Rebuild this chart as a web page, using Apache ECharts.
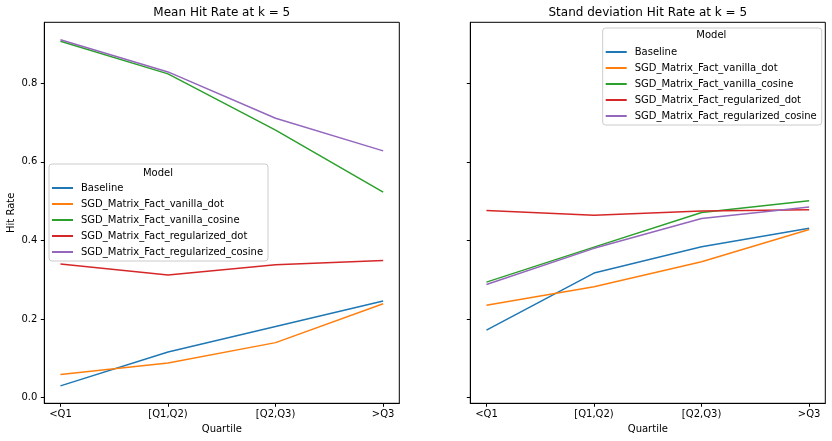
<!DOCTYPE html>
<html>
<head>
<meta charset="utf-8">
<script src="https://cdn.jsdelivr.net/npm/echarts@6/dist/echarts.min.js"></script>
<style>html,body{margin:0;padding:0;background:#fff}#c{width:832px;height:441px}</style>
</head>
<body>
<div id="c"></div>
<script>
const quartiles = ['<Q1', '[Q1,Q2)', '[Q2,Q3)', '>Q3'];
const models = ['Baseline', 'SGD_Matrix_Fact_vanilla_dot', 'SGD_Matrix_Fact_vanilla_cosine', 'SGD_Matrix_Fact_regularized_dot', 'SGD_Matrix_Fact_regularized_cosine'];
const colors = ['#1f77b4', '#ff7f0e', '#2ca02c', '#d62728', '#9467bd'];
const yTicks = [0, 0.2, 0.4, 0.6, 0.8];

// Mean hit rate at k=5
const meanBaseline = [0.030, 0.116, 0.181, 0.246];
const meanVanillaDot = [0.059, 0.088, 0.140, 0.239];
const meanVanillaCosine = [0.907, 0.824, 0.681, 0.523];
const meanRegularizedDot = [0.340, 0.312, 0.338, 0.349];
const meanRegularizedCosine = [0.911, 0.829, 0.711, 0.628];

// Standard deviation hit rate at k=5
const stdBaseline = [0.172, 0.317, 0.384, 0.431];
const stdVanillaDot = [0.235, 0.282, 0.346, 0.428];
const stdVanillaCosine = [0.294, 0.383, 0.471, 0.501];
const stdRegularizedDot = [0.476, 0.464, 0.475, 0.478];
const stdRegularizedCosine = [0.288, 0.380, 0.456, 0.485];

const meanSeries = [meanBaseline, meanVanillaDot, meanVanillaCosine, meanRegularizedDot, meanRegularizedCosine];
const stdSeries = [stdBaseline, stdVanillaDot, stdVanillaCosine, stdRegularizedDot, stdRegularizedCosine];

const FONT = 'DejaVu Sans';
const chart = echarts.init(document.getElementById('c'), null, {renderer: 'canvas'});

function xAxisDef(gi) {
  return {
    type: 'value', gridIndex: gi, min: -0.15, max: 3.15,
    name: 'Quartile', nameLocation: 'middle', nameGap: 20,
    nameTextStyle: {fontFamily: FONT, fontSize: 10, color: '#000'},
    axisLine: {show: true, onZero: false, lineStyle: {color: '#000', width: 1}},
    axisTick: {show: true, length: 3.5, lineStyle: {color: '#000'}, customValues: [0, 1, 2, 3]},
    axisLabel: {show: true, margin: 6, fontFamily: FONT, fontSize: 10, color: '#000',
      customValues: [0, 1, 2, 3], formatter: v => quartiles[Math.round(v)]},
    splitLine: {show: false}
  };
}
function yAxisDef(gi, showLabels) {
  return {
    type: 'value', gridIndex: gi, min: -0.0144, max: 0.9553,
    name: showLabels ? 'Hit Rate' : '', nameLocation: 'middle', nameGap: 28,
    nameTextStyle: {fontFamily: FONT, fontSize: 10, color: '#000'},
    axisLine: {show: true, onZero: false, lineStyle: {color: '#000', width: 1}},
    axisTick: {show: true, length: 3.5, lineStyle: {color: '#000'}, customValues: yTicks},
    axisLabel: {show: showLabels, margin: 7, fontFamily: FONT, fontSize: 10, color: '#000',
      customValues: yTicks, formatter: v => v.toFixed(1)},
    splitLine: {show: false}
  };
}

const series = [];
[meanSeries, stdSeries].forEach((group, gi) => {
  group.forEach((vals, mi) => {
    series.push({
      type: 'line', name: models[mi], xAxisIndex: gi, yAxisIndex: gi,
      data: vals.map((v, i) => [i, v]),
      showSymbol: false, symbol: 'none', silent: true,
      lineStyle: {color: colors[mi], width: 1.5},
      itemStyle: {color: colors[mi]},
      z: 2 + mi
    });
  });
});

function legendDef(left, top) {
  return {
    orient: 'vertical', left: left, top: top,
    data: models.map(m => ({name: m, icon: 'rect'})),
    selectedMode: false,
    itemWidth: 21, itemHeight: 2, itemGap: 4,
    padding: [18, 5, 3, 3],
    backgroundColor: 'rgba(255,255,255,0.8)',
    borderColor: '#cccccc', borderWidth: 1, borderRadius: 3,
    textStyle: {fontFamily: FONT, fontSize: 10, color: '#000', lineHeight: 12, padding: [0, 0, 0, 3]},
    z: 10
  };
}

chart.setOption({
  animation: false,
  backgroundColor: '#fff',
  grid: [
    {left: 44.3, top: 22.3, width: 355, height: 381, show: true, borderColor: '#000', borderWidth: 1, backgroundColor: 'transparent'},
    {left: 470.3, top: 22.3, width: 355, height: 381, show: true, borderColor: '#000', borderWidth: 1, backgroundColor: 'transparent'}
  ],
  xAxis: [xAxisDef(0), xAxisDef(1)],
  yAxis: [yAxisDef(0, true), yAxisDef(1, false)],
  legend: [legendDef(49, 164), legendDef(602.7, 28)],
  graphic: [
    {type: 'text', x: 221.8, y: 12.5, z: 100, style: {text: 'Mean Hit Rate at k = 5', fontFamily: FONT, fontSize: 12, fill: '#000', textAlign: 'center', textVerticalAlign: 'middle'}},
    {type: 'text', x: 647.8, y: 12.5, z: 100, style: {text: 'Stand deviation Hit Rate at k = 5', fontFamily: FONT, fontSize: 12, fill: '#000', textAlign: 'center', textVerticalAlign: 'middle'}},
    {type: 'text', x: 158, y: 173, z: 100, zlevel: 0, style: {text: 'Model', fontFamily: FONT, fontSize: 10, fill: '#000', textAlign: 'center', textVerticalAlign: 'middle'}},
    {type: 'text', x: 711.3, y: 35.7, z: 100, zlevel: 0, style: {text: 'Model', fontFamily: FONT, fontSize: 10, fill: '#000', textAlign: 'center', textVerticalAlign: 'middle'}}
  ],
  series: series
});
</script>
</body>
</html>
